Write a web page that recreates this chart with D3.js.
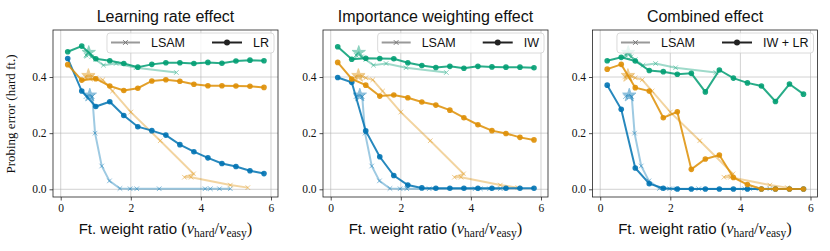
<!DOCTYPE html>
<html>
<head>
<meta charset="utf-8">
<script src="https://cdn.jsdelivr.net/npm/d3@7"></script>
<style>
	body { margin: 0; background: white; }
</style>
</head>
<body>
<div id="chart"></div>
<script>

// ---- data ----
var ratios = [0.2, 0.6, 1.0, 1.4, 1.8, 2.2, 2.6, 3.0, 3.4, 3.8, 4.2, 4.6, 5.0, 5.4, 5.8]

// learning rate sweep
var lrBlue   = [0.466, 0.350, 0.295, 0.312, 0.263, 0.223, 0.209, 0.193, 0.159, 0.134, 0.112, 0.092, 0.081, 0.066, 0.056]
var lrOrange = [0.444, 0.389, 0.394, 0.368, 0.352, 0.360, 0.386, 0.390, 0.385, 0.374, 0.369, 0.369, 0.368, 0.367, 0.363]
var lrGreen  = [0.490, 0.510, 0.465, 0.458, 0.448, 0.435, 0.445, 0.451, 0.451, 0.448, 0.452, 0.449, 0.457, 0.460, 0.458]

// importance weighting sweep
var iwBlue   = [0.398, 0.381, 0.208, 0.116, 0.049, 0.015, 0.005, 0.004, 0.004, 0.004, 0.004, 0.004, 0.004, 0.004, 0.004]
var iwOrange = [0.452, 0.393, 0.371, 0.332, 0.336, 0.326, 0.311, 0.300, 0.282, 0.255, 0.230, 0.209, 0.199, 0.185, 0.176]
var iwGreen  = [0.508, 0.463, 0.467, 0.466, 0.465, 0.451, 0.441, 0.434, 0.438, 0.431, 0.438, 0.436, 0.435, 0.435, 0.433]

// combined sweep
var bothBlue   = [0.371, 0.285, 0.076, 0.020, 0.004, 0.001, 0.001, 0.001, 0.001, 0.001, 0.001, 0.001, 0.001, 0.001, 0.001]
var bothOrange = [0.428, 0.445, 0.362, 0.350, 0.255, 0.276, 0.071, 0.108, 0.122, 0.042, 0.017, 0.001, 0.001, 0.001, 0.001]
var bothGreen  = [0.458, 0.470, 0.457, 0.423, 0.419, 0.410, 0.413, 0.347, 0.425, 0.396, 0.379, 0.368, 0.313, 0.375, 0.339]

// LSAM baseline (same in every panel), star = default setting
var lsamBlueX   = [0.72, 0.83, 0.90, 0.98, 1.17, 1.39, 1.69, 1.98, 2.17, 2.81, 4.12, 4.27, 4.53, 4.84]
var lsamBlueY   = [0.330, 0.335, 0.330, 0.200, 0.083, 0.030, 0.003, 0.002, 0.002, 0.002, 0.002, 0.002, 0.002, 0.002]
var lsamOrangeX = [0.70, 0.79, 0.90, 1.00, 1.20, 1.48, 2.00, 2.84, 3.79, 3.53, 3.72, 4.84, 5.34]
var lsamOrangeY = [0.400, 0.405, 0.402, 0.397, 0.390, 0.350, 0.275, 0.173, 0.055, 0.043, 0.043, 0.015, 0.006]
var lsamGreenX  = [0.72, 0.80, 0.88, 1.00, 1.22, 1.58, 2.15, 3.30]
var lsamGreenY  = [0.478, 0.487, 0.472, 0.462, 0.442, 0.448, 0.433, 0.416]
var lsamStar    = [1, 1, 1]

var titles = ["Learning rate effect", "Importance weighting effect", "Combined effect"]
var methodNames = ["LR", "IW", "IW + LR"]
var xTicks = [0, 2, 4, 6]
var yTicks = [0.0, 0.2, 0.4]

// ---- layout ----
var width = 830
	height = 251
	panelLeft = [53, 323, 592.5]
	panelW = 225
	plotTop = 30
	plotBottom = 197

var colors = ["#0173b2", "#de8f05", "#029e73"]
var sans = "'Liberation Sans', Arial, sans-serif"
var serif = "'Liberation Serif', 'DejaVu Serif', serif"

var panels = [
	[lrBlue, lrOrange, lrGreen],
	[iwBlue, iwOrange, iwGreen],
	[bothBlue, bothOrange, bothGreen]
]
var lsam = [
	{x: lsamBlueX, y: lsamBlueY},
	{x: lsamOrangeX, y: lsamOrangeY},
	{x: lsamGreenX, y: lsamGreenY}
]

var svg = d3.select("#chart")
	.append("svg")
	.attr("width", width)
	.attr("height", height)

var crossPath = "M-2.3,-2.3L2.3,2.3M-2.3,2.3L2.3,-2.3"

panels.forEach(function(series, p) {

	var x = d3.scaleLinear().domain([-0.22, 6.2]).range([panelLeft[p], panelLeft[p] + panelW])
	var y = d3.scaleLinear().domain([-0.0274, 0.5674]).range([plotBottom, plotTop])

	var g = svg.append("g")

	// grid
	g.selectAll(".gx").data(xTicks).enter().append("line")
		.attr("x1", d => x(d)).attr("x2", d => x(d))
		.attr("y1", plotTop).attr("y2", plotBottom)
		.attr("stroke", "#b0b0b0").attr("stroke-width", 0.8).attr("opacity", 0.7)
	g.selectAll(".gy").data(yTicks).enter().append("line")
		.attr("y1", d => y(d)).attr("y2", d => y(d))
		.attr("x1", panelLeft[p]).attr("x2", panelLeft[p] + panelW)
		.attr("stroke", "#b0b0b0").attr("stroke-width", 0.8).attr("opacity", 0.7)

	// axes
	var xAxis = g.append("g")
		.attr("transform", "translate(0," + plotBottom + ")")
		.call(d3.axisBottom(x).tickValues(xTicks).tickSize(3.5).tickPadding(3).tickFormat(d3.format("d")))
	var yAxis = g.append("g")
		.attr("transform", "translate(" + panelLeft[p] + ",0)")
		.call(d3.axisLeft(y).tickValues(yTicks).tickSize(3.5).tickPadding(3).tickFormat(d3.format(".1f")))
	;[xAxis, yAxis].forEach(function(a) {
		a.select(".domain").remove()
		a.selectAll("text").attr("font-family", serif).attr("font-size", 11.5).attr("fill", "#111")
		a.selectAll("line").attr("stroke", "#222").attr("stroke-width", 0.8)
	})

	// LSAM baseline, faded
	lsam.forEach(function(s, i) {
		var pts = s.x.map((v, k) => [v, s.y[k]])
		g.append("path")
			.attr("d", d3.line().x(d => x(d[0])).y(d => y(d[1]))(pts))
			.attr("fill", "none")
			.attr("stroke", colors[i])
			.attr("stroke-width", 2)
			.attr("opacity", 0.38)
		g.selectAll(".lsam" + i).data(pts).enter().append("path")
			.attr("transform", d => "translate(" + x(d[0]) + "," + y(d[1]) + ")")
			.attr("d", (d, k) => k == lsamStar[i] ? d3.symbol(d3.symbolStar, 55)() : crossPath)
			.attr("fill", colors[i])
			.attr("stroke", colors[i])
			.attr("stroke-width", 1)
			.attr("opacity", 0.45)
	})

	// method sweep
	series.forEach(function(vals, i) {
		g.append("path")
			.attr("d", d3.line().x((d, k) => x(ratios[k])).y(d => y(d))(vals))
			.attr("fill", "none")
			.attr("stroke", colors[i])
			.attr("stroke-width", 2)
			.attr("opacity", 0.85)
		g.selectAll(".dot" + i).data(vals).enter().append("circle")
			.attr("cx", (d, k) => x(ratios[k]))
			.attr("cy", d => y(d))
			.attr("r", 2.8)
			.attr("fill", colors[i])
			.attr("opacity", 0.9)
	})

	// frame
	g.append("rect")
		.attr("x", panelLeft[p]).attr("y", plotTop)
		.attr("width", panelW).attr("height", plotBottom - plotTop)
		.attr("fill", "none").attr("stroke", "#222").attr("stroke-width", 0.8)

	// title
	g.append("text")
		.attr("x", panelLeft[p] + panelW / 2)
		.attr("y", 22)
		.attr("text-anchor", "middle")
		.attr("font-family", sans)
		.attr("font-size", 16)
		.attr("fill", "#111")
		.text(titles[p])

	// x label with math part
	var t = g.append("text")
		.attr("x", panelLeft[p] + panelW / 2)
		.attr("y", 234)
		.attr("text-anchor", "middle")
		.attr("font-size", 16.5)
		.attr("fill", "#111")
	t.append("tspan").attr("font-family", sans).attr("font-size", 15).text("Ft. weight ratio ")
	t.append("tspan").attr("font-family", serif).text("(")
	t.append("tspan").attr("font-family", serif).attr("font-style", "italic").text("v")
	t.append("tspan").attr("font-family", serif).attr("font-size", 11.5).attr("dy", 3).text("hard")
	t.append("tspan").attr("font-family", serif).attr("dy", -3).text("/")
	t.append("tspan").attr("font-family", serif).attr("font-style", "italic").text("v")
	t.append("tspan").attr("font-family", serif).attr("font-size", 11.5).attr("dy", 3).text("easy")
	t.append("tspan").attr("font-family", serif).attr("dy", -3).text(")")

	// legend
	var lg = g.append("g")
	var box = lg.append("rect")
	var h1 = lg.append("g")
	h1.append("line").attr("x1", 0).attr("x2", 29).attr("stroke", "#999").attr("stroke-width", 2)
	h1.append("path").attr("transform", "translate(14.5,0)").attr("d", crossPath).attr("stroke", "#777").attr("stroke-width", 1)
	var t1 = lg.append("text").attr("font-family", sans).attr("font-size", 12.5).attr("fill", "#111").attr("dy", "0.35em").text("LSAM")
	var h2 = lg.append("g")
	h2.append("line").attr("x1", 0).attr("x2", 30).attr("stroke", "#222").attr("stroke-width", 2)
	h2.append("circle").attr("cx", 15).attr("r", 3).attr("fill", "#222")
	var t2 = lg.append("text").attr("font-family", sans).attr("font-size", 12.5).attr("fill", "#111").attr("dy", "0.35em").text(methodNames[p])

	var w1 = t1.node().getComputedTextLength()
	var w2 = t2.node().getComputedTextLength()
	var boxW = 4 + 29 + 11 + w1 + 27 + 30 + 11 + w2 + 5
	var bx = panelLeft[p] + panelW - 4 - boxW
	var cy = 42.5
	box.attr("x", bx).attr("y", 33).attr("width", boxW).attr("height", 20)
		.attr("rx", 3).attr("fill", "white").attr("fill-opacity", 0.8)
		.attr("stroke", "#d0d0d0").attr("stroke-width", 0.8)
	h1.attr("transform", "translate(" + (bx + 4) + "," + cy + ")")
	t1.attr("x", bx + 4 + 29 + 11).attr("y", cy)
	h2.attr("transform", "translate(" + (bx + 44 + w1 + 27) + "," + cy + ")")
	t2.attr("x", bx + 44 + w1 + 27 + 30 + 11).attr("y", cy)
})

// shared y label
svg.append("text")
	.attr("transform", "translate(15,114) rotate(-90)")
	.attr("text-anchor", "middle")
	.attr("font-family", serif)
	.attr("font-size", 13)
	.attr("fill", "#111")
	.text("Probing error (hard ft.)")

</script>
</body>
</html>
